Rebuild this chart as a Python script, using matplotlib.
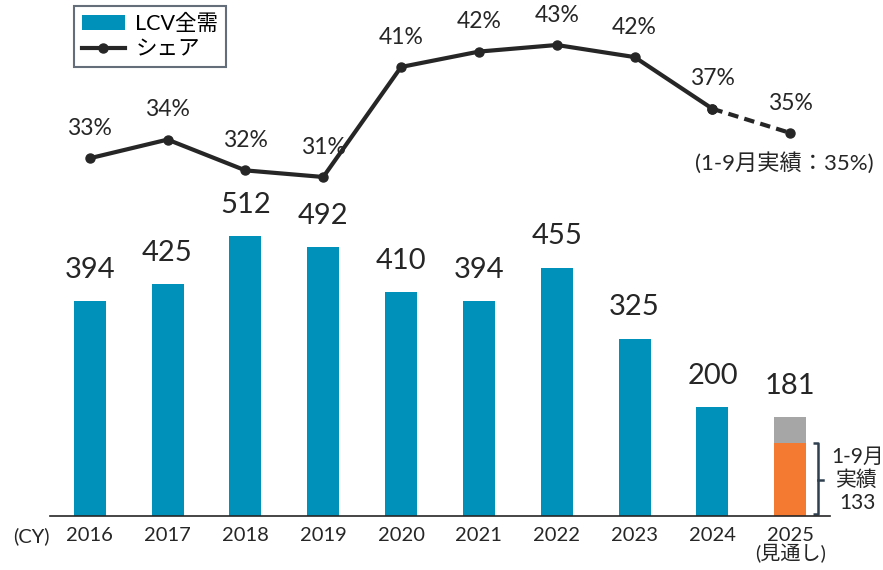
import matplotlib
matplotlib.use("Agg")
import matplotlib.pyplot as plt
from matplotlib.lines import Line2D
from matplotlib.patches import Patch

plt.rcParams['font.family'] = ['Lato', 'Noto Sans CJK JP', 'DejaVu Sans']

years = ['2016', '2017', '2018', '2019', '2020', '2021', '2022', '2023', '2024', '2025\n(見通し)']
demand = [394, 425, 512, 492, 410, 394, 455, 325, 200, 181]
actual_2025 = 133
share = [32.7, 34.4, 31.6, 31.0, 41.0, 42.4, 43.0, 41.9, 37.2, 35.0]
share_labels = ['33%', '34%', '32%', '31%', '41%', '42%', '43%', '42%', '37%', '35%']

teal = '#0091BA'
orange = '#F47A32'
gray = '#A6A6A6'
dark = '#262626'

fig = plt.figure(figsize=(8.83, 5.7), dpi=100)
ax = fig.add_axes([50 / 883, 54 / 570, 780 / 883, 516 / 570])
x = list(range(len(years)))

# bars (2025 split into actual + remaining forecast)
ax.bar(x[:-1], demand[:-1], width=0.41, color=teal)
ax.bar(x[-1], actual_2025, width=0.41, color=orange)
ax.bar(x[-1], demand[-1] - actual_2025, bottom=actual_2025, width=0.41, color=gray)
for xi, v in zip(x, demand):
    ax.annotate(str(v), (xi, v), xytext=(0, 13), textcoords='offset points',
                ha='center', va='bottom', fontsize=21, color=dark)

ax.set_xlim(-0.51, 9.51)
ax.set_ylim(0, 945)
ax.set_xticks(x)
ax.set_xticklabels(years, fontsize=14.5, color=dark, linespacing=1.0)
ax.tick_params(axis='x', length=0, pad=8)
ax.set_yticks([])
for s in ['top', 'right', 'left']:
    ax.spines[s].set_visible(False)
ax.spines['bottom'].set_color(dark)
ax.spines['bottom'].set_linewidth(1.2)
ax.text(-0.52, -0.021, '(CY)', transform=ax.get_xaxis_transform(), ha='right', va='top',
        fontsize=14.5, color=dark)

# bracket for 1-9 actual
bx = 9.36
ax.plot([bx - 0.07, bx, bx, bx - 0.07], [4, 4, actual_2025, actual_2025],
        color='#2F4050', lw=1.8, solid_capstyle='butt')
ax.plot([bx, bx + 0.06], [actual_2025 / 2, actual_2025 / 2], color='#2F4050', lw=1.8)
ax.text(9.86, actual_2025 / 2, '1-9月\n実績\n133', ha='center', va='center',
        fontsize=15, color=dark, linespacing=1.2)

# share line
ax2 = ax.twinx()
ax2.set_ylim(0.18, 47.09)
ax2.axis('off')
ax2.plot(x[:-1], share[:-1], color=dark, lw=3, marker='o', ms=6.5)
ax2.plot(x[-2:], share[-2:], color=dark, lw=3, ls=(0, (2.5, 1.5)), marker='o', ms=6.5)
for xi, v, lab in zip(x, share, share_labels):
    ax2.annotate(lab, (xi, v), xytext=(0, 14), textcoords='offset points',
                 ha='center', va='bottom', fontsize=16.5, color=dark)
ax2.annotate('(1-9月実績：35%)', (x[-1], share[-1]), xytext=(-4, -14), textcoords='offset points',
             ha='center', va='top', fontsize=16, color=dark)

handles = [Patch(facecolor=teal, edgecolor='none'),
           Line2D([0], [0], color=dark, lw=3, marker='o', ms=6.5)]
leg = fig.legend(handles, ['LCV全需', 'シェア'], loc='upper left',
                 bbox_to_anchor=(74 / 883, 1 - 6 / 570), fontsize=15.5, frameon=True,
                 fancybox=False, borderpad=0.35, handlelength=2.0, handletextpad=0.5,
                 labelspacing=0.25, borderaxespad=0)
leg.get_frame().set_edgecolor('#3D4A5A')
leg.get_frame().set_linewidth(1.5)

fig.savefig('out.png', dpi=100)
